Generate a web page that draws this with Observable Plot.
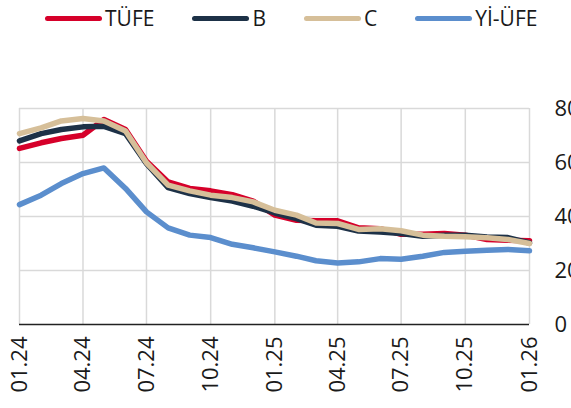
<!DOCTYPE html>
<html>
<head>
<meta charset="utf-8">
<script src="https://cdn.jsdelivr.net/npm/d3@7"></script>
<script src="https://cdn.jsdelivr.net/npm/@observablehq/plot@0.6"></script>
<style>
  html, body { margin: 0; padding: 0; background: #fff; }
  #wrap { position: relative; width: 571px; height: 408px; overflow: hidden; font-family: "Open Sans", sans-serif; }
  #legend { position: absolute; top: 4px; left: 45px; display: flex; gap: 38px; align-items: center; font-size: 21px; color: #1a1a1a; z-index: 2; }
  .item { display: flex; align-items: center; gap: 3px; }
  .sw { width: 57px; height: 5px; border-radius: 3px; display: inline-block; }
</style>
</head>
<body>
<div id="wrap"><div id="legend"></div></div>
<script>
const months = ["2024-01","2024-02","2024-03","2024-04","2024-05","2024-06","2024-07","2024-08","2024-09","2024-10","2024-11","2024-12",
                "2025-01","2025-02","2025-03","2025-04","2025-05","2025-06","2025-07","2025-08","2025-09","2025-10","2025-11","2025-12","2026-01"];
const tufe   = [65.2,67.3,68.9,70.1,75.9,72.2,60.5,52.8,50.4,49.5,48.1,45.7,40.5,38.6,38.4,38.4,35.8,35.5,33.4,33.4,33.7,33.1,31.5,31.2,31.0];
const seriesB = [68.0,70.7,72.2,73.2,73.4,70.7,59.6,50.7,48.5,47.0,45.7,43.8,41.3,39.2,36.8,36.4,34.6,34.3,33.7,32.7,33.1,33.1,32.4,32.2,30.2];
const seriesC = [70.7,72.8,75.4,76.3,75.4,71.7,59.9,51.6,49.5,47.9,47.0,45.4,42.3,40.5,37.6,37.4,35.2,35.5,34.7,33.1,32.7,32.5,32.1,31.5,30.0];
const yiufe  = [44.4,47.9,52.2,55.9,58.0,50.4,41.7,35.8,33.1,32.2,29.7,28.4,26.9,25.3,23.6,22.8,23.2,24.4,24.2,25.3,26.7,27.1,27.5,27.8,27.3];
const seriesNames = ["TÜFE","B","C","Yİ-ÜFE"];
const colors = ["#d6002a","#1d3147","#d6bf99","#5b8ecd"];
const yTicks = [0,20,40,60,80];
const xTickMonths = ["2024-01","2024-04","2024-07","2024-10","2025-01","2025-04","2025-07","2025-10","2026-01"];

const parse = d3.utcParse("%Y-%m");
const dates = months.map(parse);
const xTicks = xTickMonths.map(parse);
const allSeries = [tufe, seriesB, seriesC, yiufe];
const rows = [];
allSeries.forEach((vals, s) => vals.forEach((v, i) => rows.push({date: dates[i], value: v, series: seriesNames[s]})));

const legend = document.getElementById("legend");
seriesNames.forEach((n, i) => {
  const it = document.createElement("div");
  it.className = "item";
  it.innerHTML = `<span class="sw" style="background:${colors[i]}"></span><span>${n}</span>`;
  legend.appendChild(it);
});

const chart = Plot.plot({
  width: 571, height: 408,
  marginTop: 108, marginBottom: 84, marginLeft: 19, marginRight: 42,
  style: {fontFamily: "Open Sans", fontSize: "22px", color: "#1a1a1a", background: "transparent"},
  x: {type: "utc", domain: [dates[0], dates[dates.length - 1]], label: null},
  y: {domain: [0, 80], label: null},
  marks: [
    Plot.gridY(yTicks.filter(d => d > 0), {stroke: "#d9d9d9", strokeOpacity: 1, strokeWidth: 1.5}),
    Plot.gridX(xTicks, {stroke: "#d9d9d9", strokeOpacity: 1, strokeWidth: 1.5}),
    Plot.ruleY([0], {stroke: "#222", strokeWidth: 1.5}),
    ...seriesNames.map((n, i) => Plot.line(rows.filter(r => r.series === n), {x: "date", y: "value", stroke: colors[i], strokeWidth: 5.5, strokeLinejoin: "round"})),
    Plot.axisY(yTicks, {anchor: "right", tickSize: 0, tickPadding: 25, textAnchor: "start", fontSize: 22, label: null}),
    Plot.axisX(xTicks, {anchor: "bottom", tickSize: 0, tickPadding: 12, tickRotate: -90, fontSize: 22, label: null, tickFormat: d3.utcFormat("%m.%y")})
  ]
});
document.getElementById("wrap").appendChild(chart);
</script>
</body>
</html>
